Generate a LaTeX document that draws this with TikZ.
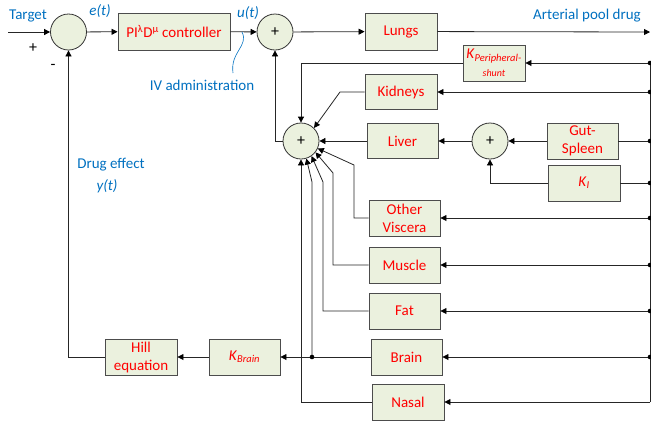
\documentclass[tikz,border=0pt]{standalone}
\usepackage{fontspec}
\setmainfont{Carlito}
\usetikzlibrary{arrows.meta}
\definecolor{boxfill}{HTML}{EBF1DE}
\definecolor{labblue}{HTML}{0070C0}
\definecolor{organred}{HTML}{FF0000}

\begin{document}
\begin{tikzpicture}[x=1pt,y=-1pt,
	blk/.style={shape=rectangle,draw=black!70,line width=0.9pt,fill=boxfill,text=organred,minimum width=71pt,minimum height=36pt,inner sep=0pt,align=center,font=\fontsize{15}{18}\selectfont},
	sumnode/.style={shape=circle,draw=black!80,line width=0.8pt,fill=boxfill,minimum size=36pt,inner sep=0pt,font=\fontsize{16}{18}\selectfont},
	lab/.style={text=labblue,font=\fontsize{15}{18}\selectfont,inner sep=0pt},
	wire/.style={draw=black!85,line width=0.8pt},
	arr/.style={wire,-{Triangle[length=6pt,width=6pt,color=black]}}
	]
	\useasboundingbox (0,0) rectangle (651,421);
	
	% controller loop
	\node[sumnode] (s1) at (68.5,32) {};
	\node[blk,minimum width=112pt,minimum height=37pt] (ctrl) at (174,31.5) {PI\textsuperscript{λ}D\textsuperscript{μ} controller};
	\node[sumnode] (s2) at (275,32) {+};
	\node[blk,minimum width=72pt,minimum height=37pt] (lungs) at (401,31.5) {Lungs};
	
	% organs
	\node[blk,minimum width=62pt] (kper) at (494,63) {\textit{K}\textsubscript{\textit{Peripheral-}}\\{\fontsize{10}{10}\selectfont\itshape shunt}};
	\node[blk,minimum width=72pt,minimum height=35pt] (kid) at (401,92) {Kidneys};
	\node[sumnode] (bsum) at (301,141) {+};
	\node[blk,minimum height=35pt] (liver) at (402.5,141) {Liver};
	\node[sumnode] (s3) at (490,141) {+};
	\node[blk] (gut) at (582.5,141) {Gut-\\Spleen};
	\node[blk,minimum width=72pt] (ki) at (584,183) {\textit{K}\textsubscript{\textit{I}}};
	\node[blk] (ov) at (404.5,218) {Other\\Viscera};
	\node[blk] (musc) at (404.5,265) {Muscle};
	\node[blk] (fat) at (404.5,311) {Fat};
	\node[blk] (brain) at (406.5,357) {Brain};
	\node[blk,minimum width=72pt] (nasal) at (408,402) {Nasal};
	\node[blk] (kbr) at (244.5,357) {\textit{K}\textsubscript{\textit{Brain}}};
	\node[blk,minimum width=72pt] (hill) at (141,357) {Hill\\equation};
	
	% labels
	\node[lab] (ltgt) at (28,16) {Target};
	\node[inner sep=0pt,font=\fontsize{16}{18}\selectfont] (lplus) at (33,48) {+};
	\node[inner sep=0pt,font=\fontsize{16}{18}\selectfont] (lminus) at (53,67) {-};
	\node[lab] (le) at (100,11) {\textit{e(t)}};
	\node[lab] (lu) at (248,13) {\textit{u(t)}};
	\node[lab] (liv) at (202,85) {IV administration};
	\node[lab] (lart) at (587,16) {Arterial pool drug};
	\node[lab] (leff) at (111,165) {Drug effect};
	\node[lab] (ly) at (107,186) {\textit{y(t)}};
	
	% points
	\coordinate (tgt) at (8,32);
	\coordinate (art) at (650,32);
	\coordinate (bkp) at (650,63);
	\coordinate (bkid) at (650,92);
	\coordinate (bgut) at (650,141);
	\coordinate (bki) at (650,183);
	\coordinate (bov) at (650,218);
	\coordinate (bmus) at (650,265);
	\coordinate (bfat) at (650,311);
	\coordinate (bbr) at (650,357);
	\coordinate (bnas) at (650,402);
	\coordinate (kidk) at (340,92);
	\coordinate (ovk) at (354,165);
	\coordinate (musk) at (333,173);
	\coordinate (fatk) at (323,182);
	\coordinate (brk) at (312,182);
	\coordinate (brdot) at (312,357);
	\coordinate (ivtop) at (242,32);
	\coordinate (ivbot) at (233,73);
	
	% forward path
	\draw[arr] (tgt) -- (s1);
	\draw[arr] (s1) -- (ctrl);
	\draw[arr] (ctrl) -- (s2);
	\draw[arr] (s2) -- (lungs);
	\draw[arr] (lungs) -- (art);
	\draw[labblue,line width=0.6pt] (ivtop) .. controls (249,46) and (230,52) .. (ivbot);
	
	% arterial bus
	\draw[wire] (bkp) -- (bnas);
	\draw[arr] (bkp) -- (kper);
	\draw[arr] (bkid) -- (kid);
	\draw[wire] (bgut) -- (gut);
	\draw[wire] (bki) -- (ki);
	\draw[arr] (bov) -- (ov);
	\draw[arr] (bmus) -- (musc);
	\draw[arr] (bfat) -- (fat);
	\draw[arr] (bbr) -- (brain);
	\draw[arr] (bnas) -- (nasal);
	\foreach \p in {bkp,bkid,bgut,bki,bov,bmus,bfat,bbr}
		\fill[black] (\p) circle (2.3pt);
	
	% venous return
	\draw[arr] (kper) -| (bsum);
	\draw[arr] (kid) -- (kidk) -- (bsum.45);
	\draw[arr] (liver) -- (bsum);
	\draw[arr] (s3) -- (liver);
	\draw[arr] (gut) -- (s3);
	\draw[arr] (ki) -| (s3);
	\draw[arr] (ov) -| (ovk) -- (bsum.-24);
	\draw[arr] (musc) -| (musk) -- (bsum.-38);
	\draw[arr] (fat) -| (fatk) -- (bsum.-55);
	\draw[arr] (brdot) -- (brk) -- (bsum.-73);
	\draw[arr] (nasal) -| (bsum);
	\draw[arr] (bsum) -| (s2);
	
	% brain effect
	\draw[arr] (brain) -- (kbr);
	\fill[black] (brdot) circle (2.3pt);
	\draw[arr] (kbr) -- (hill);
	\draw[arr] (hill) -| (s1);
	
\end{tikzpicture}
\end{document}
